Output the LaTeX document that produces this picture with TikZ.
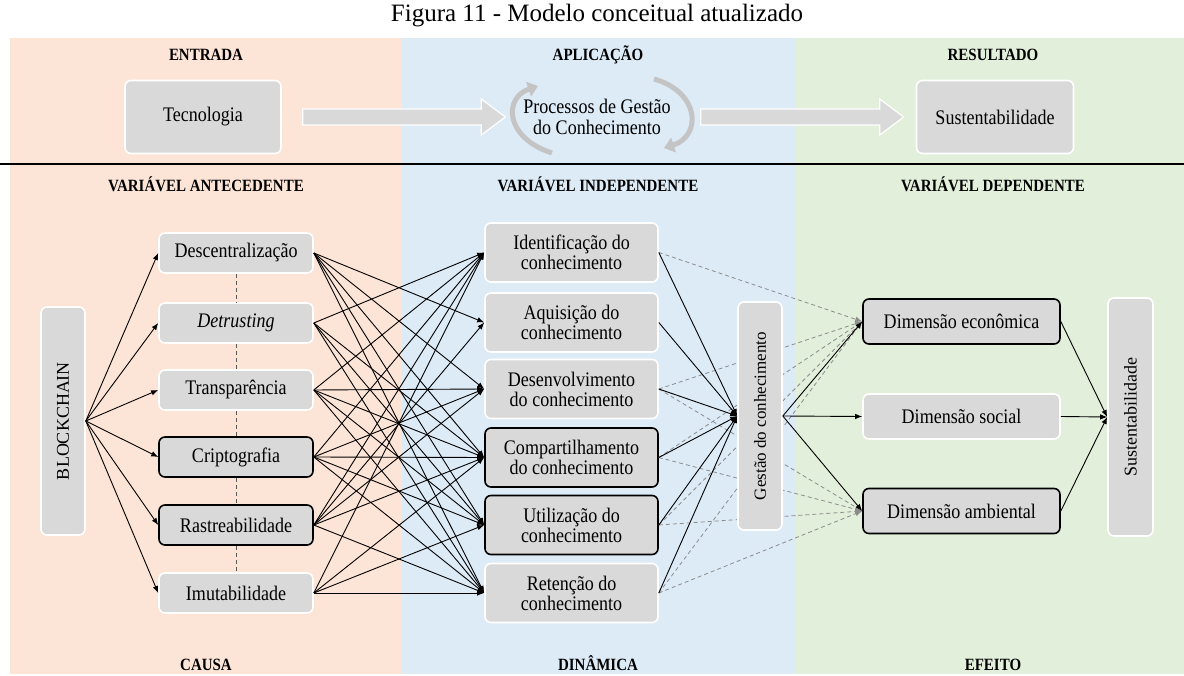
\documentclass[tikz,border=0pt]{standalone}
\usepackage{fontspec}
\setmainfont[FakeStretch=0.87]{Liberation Serif}
\newfontfamily\plainserif{Liberation Serif}
\usetikzlibrary{arrows.meta,calc}
\definecolor{bandA}{HTML}{FCE4D6}
\definecolor{bandB}{HTML}{DDEBF7}
\definecolor{bandC}{HTML}{E2EFDA}
\definecolor{boxgray}{HTML}{D9D9D9}
\definecolor{dashgray}{HTML}{8C8C8C}
\definecolor{arcgray}{HTML}{C4C4C4}

\begin{document}
\begin{tikzpicture}[x=1pt,y=-1pt,
  box/.style={draw=white, line width=1.6pt, fill=boxgray, rounded corners=6pt,
              align=center, inner sep=0pt, font=\fontsize{20.7}{20}\selectfont},
  boxk/.style={box, draw=black},
  vbox/.style={box, rotate=90, font=\plainserif\fontsize{18}{18}\selectfont},
  hdr/.style={font=\bfseries\fontsize{17.2}{17}\selectfont, inner sep=0pt, anchor=base},
  link/.style={-{Latex[length=7pt,width=5.5pt]}, line width=0.9pt},
  dlink/.style={-{Latex[length=7pt,width=5.5pt]}, dash pattern=on 4pt off 3pt,
                draw=dashgray, line width=0.8pt},
  chain/.style={dash pattern=on 4pt off 3pt, draw=black!65, line width=0.9pt},
  blockarrow/.style={draw=white, line width=1.2pt, fill=boxgray},
  cyclearc/.style={line width=5pt, draw=arcgray,
                   -{Triangle[length=10pt,width=15pt]}}
]
\useasboundingbox (0,0) rectangle (1184,676);

% background columns
\fill[bandA] (10,38) rectangle (402,674);
\fill[bandB] (402,38) rectangle (795,674);
\fill[bandC] (795,38) rectangle (1184,674);
\draw[line width=1.2pt] (0,164) -- (1184,164);

% title and column headings
\node[font=\plainserif\fontsize{25}{25}\selectfont, inner sep=0pt] (title) at (597,16)
  {Figura 11 - Modelo conceitual atualizado};
\node[hdr] (h1) at (206,61) {ENTRADA};
\node[hdr] (h2) at (598,61) {APLICAÇÃO};
\node[hdr] (h3) at (993,61) {RESULTADO};
\node[hdr] (v1) at (206,192) {VARIÁVEL ANTECEDENTE};
\node[hdr] (v2) at (598,192) {VARIÁVEL INDEPENDENTE};
\node[hdr] (v3) at (993,192) {VARIÁVEL DEPENDENTE};
\node[hdr] (f1) at (206,670) {CAUSA};
\node[hdr] (f2) at (598,670) {DINÂMICA};
\node[hdr] (f3) at (993,670) {EFEITO};

% upper band: input -> application -> result
\node[box, minimum width=156pt, minimum height=73pt] (tec) at (203,117) {Tecnologia};
\node[box, minimum width=157pt, minimum height=73pt] (sustop) at (995,117) {Sustentabilidade};
\node[align=center, inner sep=0pt, font=\fontsize{20.7}{21}\selectfont] (proc) at (597,117)
  {Processos de Gestão\\do Conhecimento};

\coordinate (a1s) at ($(tec.east)+(21,0)$);
\coordinate (a1e) at ($(proc.west)+(-18,0)$);
\coordinate (a2s) at ($(proc.east)+(30,0)$);
\coordinate (a2e) at ($(sustop.west)+(-12,0)$);
\foreach \s/\e in {a1s/a1e, a2s/a2e}
  \filldraw[blockarrow] let \p1=(\s), \p2=(\e) in
    (\x1,\y1+8pt) -- (\x2-24pt,\y1+8pt) -- (\x2-24pt,\y1+18pt) -- (\x2,\y1)
    -- (\x2-24pt,\y1-18pt) -- (\x2-24pt,\y1-8pt) -- (\x1,\y1-8pt) -- cycle;

% cycle arrows around the knowledge-management processes
\draw[cyclearc] (552,153) .. controls (505,138) and (503,98) .. (538,86);
\draw[cyclearc] (654,79) .. controls (700,92) and (702,136) .. (664,148);

% antecedent variables
\node[vbox, minimum width=228pt, minimum height=44pt] (bc) at (63,421) {BLOCKCHAIN};
\node[box,  minimum width=154pt, minimum height=40pt] (desc)   at (236,253) {Descentralização};
\node[box,  minimum width=154pt, minimum height=40pt] (detr)   at (236,323) {\itshape Detrusting};
\node[box,  minimum width=154pt, minimum height=40pt] (transp) at (236,390) {Transparência};
\node[boxk, minimum width=154pt, minimum height=40pt] (cript)  at (236,457) {Criptografia};
\node[boxk, minimum width=154pt, minimum height=40pt] (rast)   at (236,525) {Rastreabilidade};
\node[box,  minimum width=154pt, minimum height=40pt] (imut)   at (236,593) {Imutabilidade};

\foreach \a/\b in {desc/detr, detr/transp, transp/cript, cript/rast, rast/imut}
  \draw[chain] (\a.south) -- (\b.north);
\foreach \n in {desc,detr,transp,cript,rast,imut}
  \draw[link] (bc.south) -- (\n.west);

% independent variables: knowledge processes
\node[box,  minimum width=173pt, minimum height=59pt] (ident)  at (571.5,252.5) {Identificação do\\conhecimento};
\node[box,  minimum width=173pt, minimum height=59pt] (aquis)  at (571.5,322.5) {Aquisição do\\conhecimento};
\node[box,  minimum width=173pt, minimum height=59pt] (desenv) at (571.5,389) {Desenvolvimento\\do conhecimento};
\node[boxk, minimum width=173pt, minimum height=59pt] (compart) at (571.5,457.5) {Compartilhamento\\do conhecimento};
\node[boxk, minimum width=173pt, minimum height=59pt] (util)   at (571.5,525) {Utilização do\\conhecimento};
\node[box,  minimum width=173pt, minimum height=59pt] (ret)    at (571.5,593) {Retenção do\\conhecimento};

\foreach \s/\t in {detr/ident, transp/ident, cript/ident, rast/ident, imut/ident,
                   desc/aquis, rast/aquis,
                   desc/desenv, transp/desenv, cript/desenv, rast/desenv,
                   desc/compart, detr/compart, transp/compart, cript/compart, rast/compart, imut/compart,
                   desc/util, detr/util, transp/util, cript/util, imut/util,
                   desc/ret, detr/ret, transp/ret, cript/ret, rast/ret, imut/ret}
  \draw[link] (\s.east) -- (\t.west);

% dependent variables
\node[boxk, minimum width=197pt, minimum height=45pt] (eco) at (961.5,321.5) {Dimensão econômica};
\node[box,  minimum width=197pt, minimum height=45pt] (soc) at (961.5,416.5) {Dimensão social};
\node[boxk, minimum width=197pt, minimum height=45pt] (amb) at (961.5,511) {Dimensão ambiental};
\node[vbox, minimum width=238pt, minimum height=45pt] (sus) at (1130.5,417) {Sustentabilidade};

% indirect influences (behind the knowledge-management box)
\foreach \s/\t in {ident/eco, desenv/eco, desenv/amb, compart/eco, compart/amb,
                   util/eco, util/amb, ret/eco, ret/amb}
  \draw[dlink] (\s.east) -- (\t.west);

\node[vbox, minimum width=228pt, minimum height=44pt,
      font=\plainserif\fontsize{17}{17}\selectfont] (gkm) at (760,416) {Gestão do conhecimento};

\foreach \n in {ident,aquis,desenv,compart,util,ret}
  \draw[link] (\n.east) -- (gkm.north);
\foreach \n in {eco,soc,amb}
  \draw[link] (gkm.south) -- (\n.west);
\foreach \n in {eco,soc,amb}
  \draw[link] (\n.east) -- (sus.north);
\end{tikzpicture}
\end{document}
